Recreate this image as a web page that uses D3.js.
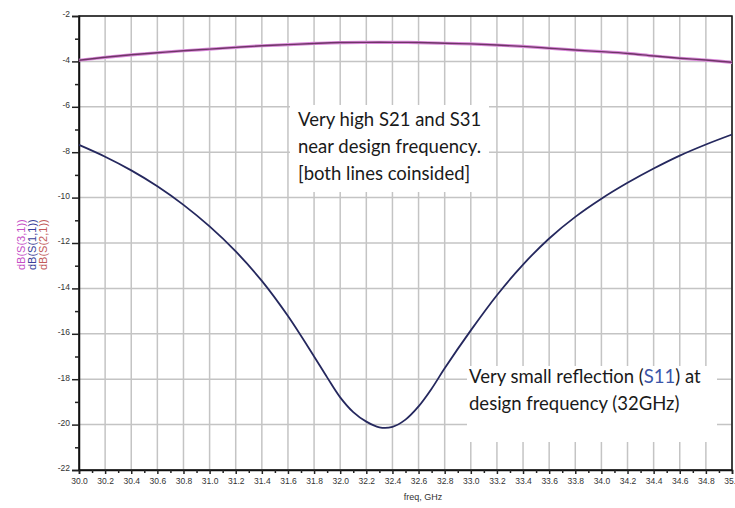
<!DOCTYPE html>
<html>
<head>
<meta charset="utf-8">
<script src="https://cdn.jsdelivr.net/npm/d3@7"></script>
<style>
body { margin: 0; background: #fff; }
svg { display: block; }
</style>
</head>
<body>
<script>
// S-parameters, freq in GHz, values in dB
const freqS11 = [30.0, 30.2, 30.4, 30.6, 30.8, 31.0, 31.2, 31.4, 31.6, 31.8, 31.9, 32.0, 32.1, 32.2, 32.3, 32.4, 32.5, 32.6, 32.7, 32.8, 33.0, 33.2, 33.4, 33.6, 33.8, 34.0, 34.2, 34.4, 34.6, 34.8, 35.0];
const s11 = [-7.68, -8.2, -8.8, -9.5, -10.32, -11.27, -12.37, -13.67, -15.22, -17.0, -17.92, -18.8, -19.45, -19.87, -20.12, -20.1, -19.78, -19.2, -18.42, -17.52, -15.85, -14.3, -12.95, -11.8, -10.85, -10.05, -9.35, -8.72, -8.15, -7.66, -7.22];

const freqS21 = [30.0, 30.2, 30.4, 30.6, 30.8, 31.0, 31.2, 31.4, 31.6, 31.8, 32.0, 32.2, 32.4, 32.6, 32.8, 33.0, 33.2, 33.4, 33.6, 33.8, 34.0, 34.2, 34.4, 34.6, 34.8, 35.0];
const s21 = [-3.95, -3.82, -3.71, -3.62, -3.53, -3.46, -3.38, -3.31, -3.26, -3.21, -3.17, -3.16, -3.16, -3.17, -3.2, -3.23, -3.28, -3.34, -3.42, -3.5, -3.57, -3.65, -3.76, -3.86, -3.94, -4.04];
const s31 = [-3.95, -3.82, -3.71, -3.62, -3.53, -3.46, -3.38, -3.31, -3.26, -3.21, -3.17, -3.16, -3.16, -3.17, -3.2, -3.23, -3.28, -3.34, -3.42, -3.5, -3.57, -3.65, -3.76, -3.86, -3.94, -4.04];

const xTicks = [30.0, 30.2, 30.4, 30.6, 30.8, 31.0, 31.2, 31.4, 31.6, 31.8, 32.0, 32.2, 32.4, 32.6, 32.8, 33.0, 33.2, 33.4, 33.6, 33.8, 34.0, 34.2, 34.4, 34.6, 34.8, 35.0];
const yTicks = [-2, -4, -6, -8, -10, -12, -14, -16, -18, -20, -22];
const legendLabels = ["dB(S(3,1))", "dB(S(1,1))", "dB(S(2,1))"];

const W = 735, H = 508;
const mLeft = 79, mRight = 732, mTop = 16, mBottom = 470;

const svg = d3.select("body").append("svg")
  .attr("width", W)
  .attr("height", H);

const x = d3.scaleLinear().domain([30, 35]).range([mLeft, mRight]);
const y = d3.scaleLinear().domain([-22, -2]).range([mBottom, mTop]);

// grid
const grid = svg.append("g").attr("stroke", "#c4c4c4").attr("stroke-width", 1.5);
grid.selectAll(".vg").data(xTicks).enter().append("line")
  .attr("x1", d => x(d)).attr("x2", d => x(d))
  .attr("y1", mTop).attr("y2", mBottom);
grid.selectAll(".hg").data(yTicks).enter().append("line")
  .attr("x1", mLeft).attr("x2", mRight)
  .attr("y1", d => y(d)).attr("y2", d => y(d));

// annotation boxes hide the grid behind them
svg.append("rect").attr("x", 290).attr("y", 105).attr("width", 199).attr("height", 87).attr("fill", "#fff");
svg.append("rect").attr("x", 467).attr("y", 366).attr("width", 250).attr("height", 76).attr("fill", "#fff");

// frame
svg.append("rect")
  .attr("x", mLeft).attr("y", mTop)
  .attr("width", mRight - mLeft).attr("height", mBottom - mTop)
  .attr("fill", "none").attr("stroke", "#111").attr("stroke-width", 1.5);

// y axis
const yAxis = svg.append("g")
  .attr("transform", `translate(${mLeft},0)`)
  .call(d3.axisLeft(y).tickValues(yTicks).tickSize(7).tickPadding(2).tickFormat(d => d));
yAxis.select(".domain").attr("stroke", "#111").attr("stroke-width", 1.5);
yAxis.selectAll(".tick line").attr("stroke", "#222").attr("stroke-width", 1.5);
yAxis.selectAll("text").attr("font-family", "Arial, Liberation Sans, sans-serif")
  .attr("font-size", 8.5).attr("fill", "#333").attr("dy", "0.1em");

svg.append("g")
  .attr("transform", `translate(${mLeft},0)`)
  .call(d3.axisLeft(y).tickValues(d3.range(-21, -2, 2)).tickSize(4).tickFormat(""))
  .call(g => g.select(".domain").remove())
  .selectAll(".tick line").attr("stroke", "#222").attr("stroke-width", 1.5);

// x axis
const xAxis = svg.append("g")
  .attr("transform", `translate(0,${mBottom})`)
  .call(d3.axisBottom(x).tickValues(xTicks).tickSize(4).tickPadding(4).tickFormat(d3.format(".1f")));
xAxis.select(".domain").attr("stroke", "#111").attr("stroke-width", 1.5);
xAxis.selectAll(".tick line").attr("stroke", "#222").attr("stroke-width", 1.5);
xAxis.selectAll("text").attr("font-family", "Arial, Liberation Sans, sans-serif")
  .attr("font-size", 8.5).attr("fill", "#333");

svg.append("g")
  .attr("transform", `translate(0,${mBottom})`)
  .call(d3.axisBottom(x).tickValues(xTicks.slice(0, -1).map(d => d + 0.1)).tickSize(3).tickFormat(""))
  .call(g => g.select(".domain").remove())
  .selectAll(".tick line").attr("stroke", "#222").attr("stroke-width", 1.5);

svg.append("text")
  .attr("x", 423).attr("y", 500)
  .attr("text-anchor", "middle")
  .attr("font-family", "Arial, Liberation Sans, sans-serif")
  .attr("font-size", 9).attr("fill", "#333")
  .text("freq, GHz");

// rotated trace labels
const legendColors = ["#c64fc6", "#3a3f9a", "#c25a5a"];
svg.selectAll(".leg").data(legendLabels).enter().append("text")
  .attr("transform", (d, i) => `translate(${25 + i * 11},270) rotate(-90)`)
  .attr("font-family", "Arial, Liberation Sans, sans-serif")
  .attr("font-size", 11)
  .attr("fill", (d, i) => legendColors[i])
  .text(d => d);

// traces
const line = d3.line().x(d => x(d[0])).y(d => y(d[1])).curve(d3.curveCatmullRom.alpha(0.5));

svg.append("path")
  .datum(d3.zip(freqS21, s31))
  .attr("fill", "none").attr("stroke", "#da8ada").attr("stroke-width", 3.2)
  .attr("d", line);
svg.append("path")
  .datum(d3.zip(freqS21, s21))
  .attr("fill", "none").attr("stroke", "#6e3566").attr("stroke-width", 1.4)
  .attr("d", line);

svg.append("path")
  .datum(d3.zip(freqS11, s11))
  .attr("fill", "none").attr("stroke", "#25285e").attr("stroke-width", 1.8)
  .attr("d", line);

// annotations
const note = svg.append("g")
  .attr("font-family", "Lato, 'Open Sans', sans-serif")
  .attr("font-size", 18.5)
  .attr("fill", "#1a1a1a");

note.append("text").attr("x", 298).attr("y", 126).text("Very high S21 and S31");
note.append("text").attr("x", 298).attr("y", 153).text("near design frequency.");
note.append("text").attr("x", 298).attr("y", 180).text("[both lines coinsided]");

const t1 = note.append("text").attr("x", 469).attr("y", 383);
t1.append("tspan").text("Very small reflection (");
t1.append("tspan").attr("fill", "#3a55a8").text("S11");
t1.append("tspan").text(") at");
note.append("text").attr("x", 469).attr("y", 410).text("design frequency (32GHz)");
</script>
</body>
</html>
